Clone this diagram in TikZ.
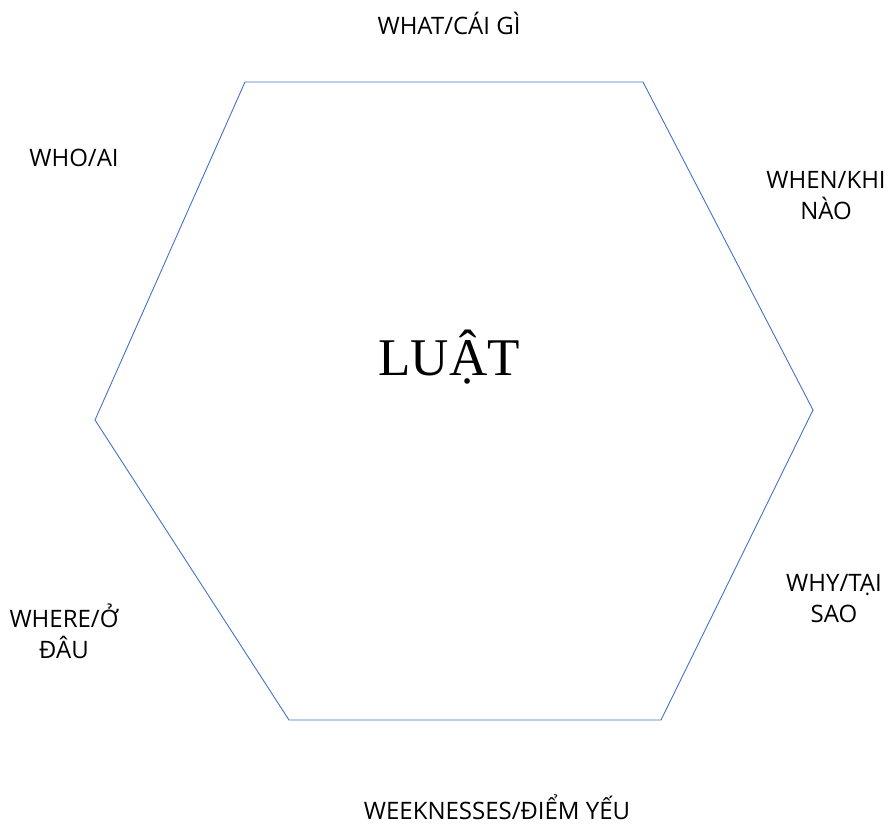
\documentclass[tikz,border=0pt]{standalone}
\usepackage{fontspec}
\setmainfont{Open Sans}
\newfontfamily\luatfont{Liberation Serif}
\usetikzlibrary{positioning}
\definecolor{hexBlue}{HTML}{4472C4}

\begin{document}
\begin{tikzpicture}[x=1pt, y=-1pt,
  lbl/.style={font=\fontsize{24}{31}\selectfont, align=center, inner sep=0pt},
  hexline/.style={draw=hexBlue, line width=0.9pt}]
\useasboundingbox (0,0) rectangle (888,827);
% hexagon corners
\coordinate (tl) at (245,82);
\coordinate (tr) at (643,82);
\coordinate (r) at (813,410);
\coordinate (br) at (661,720);
\coordinate (bl) at (289,720);
\coordinate (l) at (95,420);
\draw[hexline] (tl) -- (tr) -- (r) -- (br) -- (bl) -- (l) -- cycle;
% centre
\node[inner sep=0pt, font=\luatfont\fontsize{53}{60}\selectfont] (luat) at (449,357) {LUẬT};
% the six questions
\node[lbl] (what) at (449,23) {WHAT/CÁI GÌ};
\node[lbl] (who) at (74,158) {WHO/AI};
\node[lbl] (when) at (826,196) {WHEN/KHI\\NÀO};
\node[lbl] (why) at (834,599) {WHY/TẠI\\SAO};
\node[lbl] (where) at (64,631) {WHERE/Ở\\ĐÂU};
\node[lbl, anchor=base] (weak) at (497,819) {WEEKNESSES/ĐIỂM YẾU};
\end{tikzpicture}
\end{document}
